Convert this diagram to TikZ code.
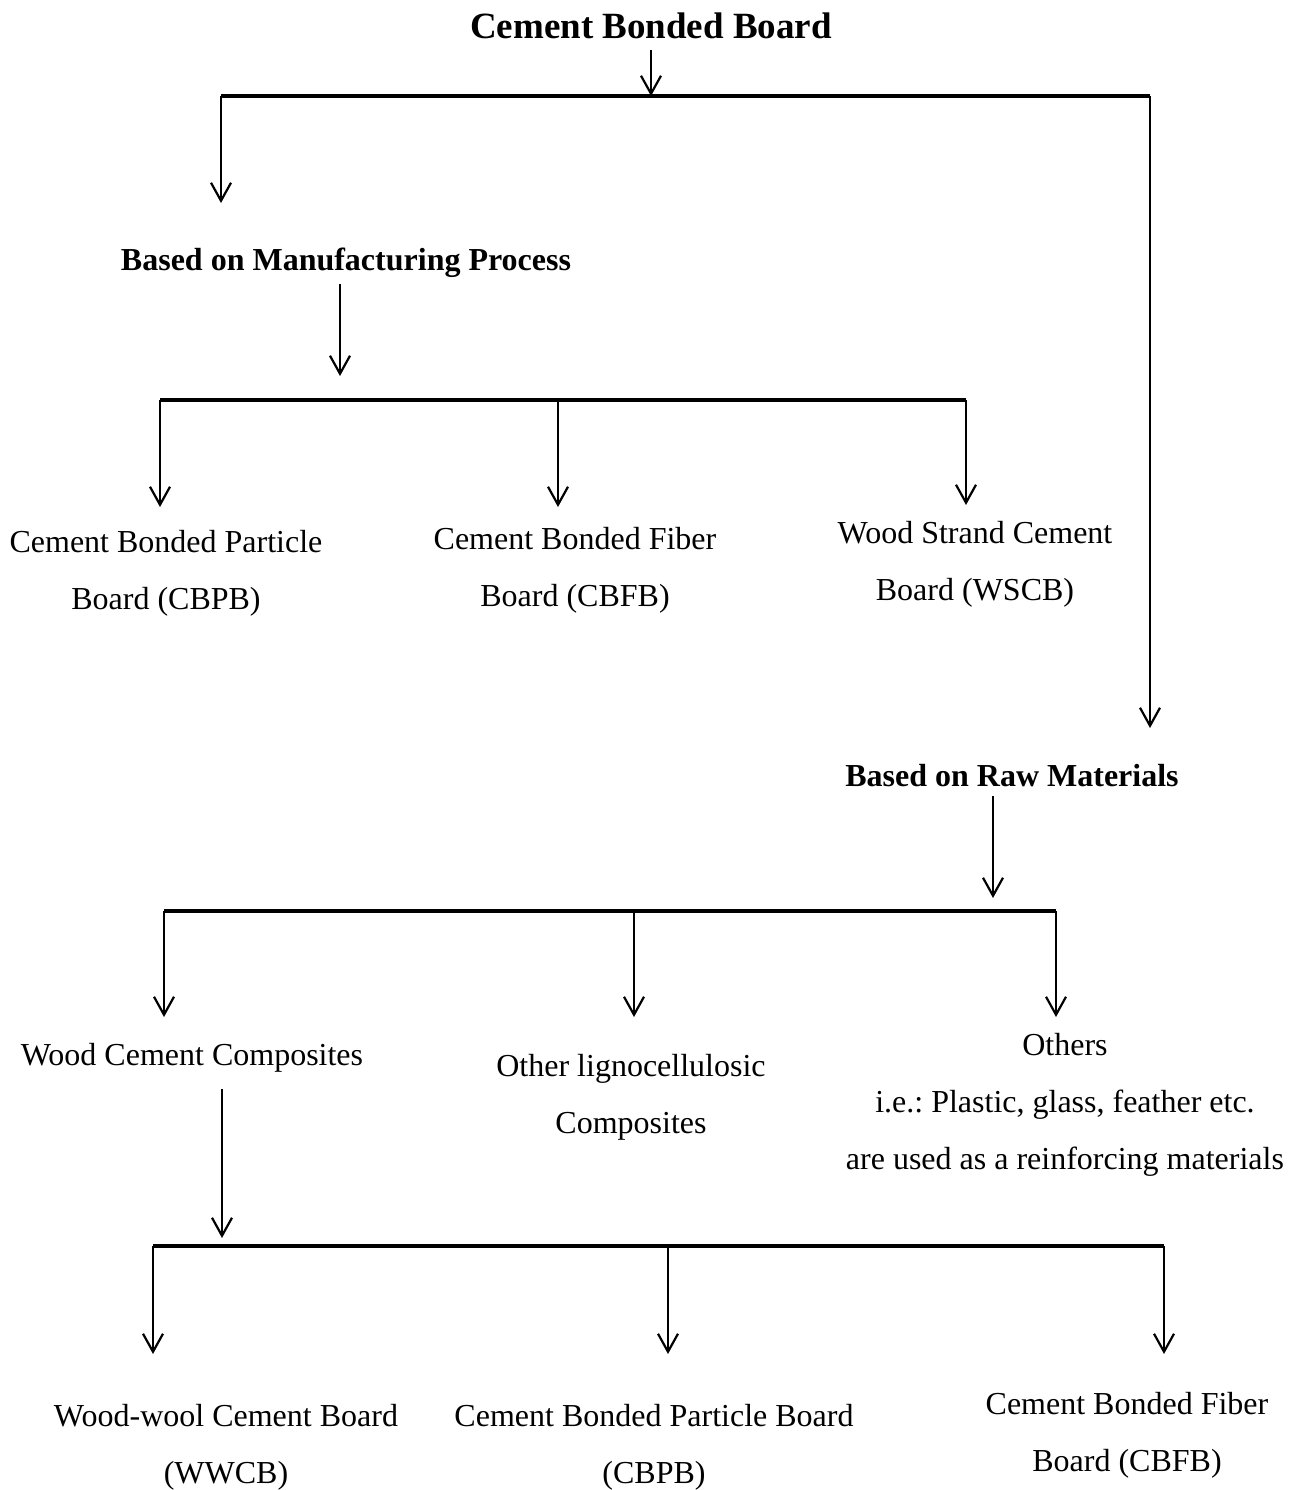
\documentclass[tikz,border=0pt]{standalone}
\usepackage{fontspec}
\setmainfont{Liberation Serif}
\usetikzlibrary{arrows.meta}
\frenchspacing

\begin{document}
\begin{tikzpicture}[
  x=0.5pt, y=-0.5pt,
  >={Straight Barb[length=9pt,width=10pt]},
  leaf/.style={
    anchor=north,
    inner sep=0pt,
    align=center,
    font=\fontsize{16}{28.5}\selectfont
  },
  heading/.style={leaf, font=\fontsize{16}{28.5}\selectfont\bfseries},
  busline/.style={line width=2pt},
  link/.style={->, line width=1.1pt}
]
\useasboundingbox (0,0) rectangle (1303,1490);

% Root
\node[heading, font=\fontsize{18.5}{22}\selectfont\bfseries] (cbb) at (651,12) {Cement Bonded Board};

\coordinate (top0) at (221,96);
\coordinate (top1) at (1150,96);

\draw[link, shorten <=5.5pt] (cbb.south) -- (cbb.south |- top0);
\draw[busline] (top0) -- (top1);

% Manufacturing process branch
\node[heading] (mfg) at (346,248) {Based on Manufacturing Process};

\node[leaf] (cbpbA) at (166,530) {Cement Bonded Particle\\Board (CBPB)};
\node[leaf] (cbfbA) at (575,527) {Cement Bonded Fiber\\Board (CBFB)};
\node[leaf] (wscb) at (975,521) {Wood Strand Cement\\Board (WSCB)};

\coordinate (mfgbus0) at (160,400);
\coordinate (mfgin) at (340,400);
\coordinate (mfgmid) at (558,400);
\coordinate (mfgbus1) at (966,400);

\draw[link, shorten >=22.5pt] (top0) -- (top0 |- mfg.north);
\draw[link, shorten <=3pt, shorten >=12pt] (mfg.south -| mfgin) -- (mfgin);
\draw[busline] (mfgbus0) -- (mfgbus1);
\draw[link, shorten >=11.5pt] (mfgbus0) -- (mfgbus0 |- cbpbA.north);
\draw[link, shorten >=10pt] (mfgmid) -- (mfgmid |- cbfbA.north);
\draw[link, shorten >=8pt] (mfgbus1) -- (mfgbus1 |- wscb.north);

% Raw materials branch
\node[heading] (raw) at (1012,764) {Based on Raw Materials};

\node[leaf] (wcc) at (192,1043) {Wood Cement Composites};
\node[leaf] (olc) at (631,1054) {Other lignocellulosic\\Composites};
\node[leaf] (oth) at (1065,1033) {Others\\i.e.: Plastic, glass, feather etc.\\are used as a reinforcing materials};

\coordinate (rawbus0) at (164,911);
\coordinate (rawmid) at (634,911);
\coordinate (rawin) at (993,911);
\coordinate (rawbus1) at (1056,911);

\draw[link, shorten >=18pt] (top1) -- (top1 |- raw.north);
\draw[link, shorten <=4.5pt, shorten >=6.5pt] (raw.south -| rawin) -- (rawin);
\draw[busline] (rawbus0) -- (rawbus1);
\draw[link, shorten >=13pt] (rawbus0) -- (rawbus0 |- wcc.north);
\draw[link, shorten >=18.5pt] (rawmid) -- (rawmid |- olc.north);
\draw[link, shorten >=8pt] (rawbus1) -- (rawbus1 |- oth.north);

% Wood cement composites
\node[leaf] (wwcb) at (226,1404) {Wood-wool Cement Board\\(WWCB)};
\node[leaf] (cbpbB) at (654,1404) {Cement Bonded Particle Board\\(CBPB)};
\node[leaf] (cbfbB) at (1127,1392) {Cement Bonded Fiber\\Board (CBFB)};

\coordinate (woodbus0) at (153,1246);
\coordinate (woodin) at (222,1246);
\coordinate (woodmid) at (668,1246);
\coordinate (woodbus1) at (1164,1246);

\draw[link, shorten <=8pt, shorten >=4pt] (wcc.south -| woodin) -- (woodin);
\draw[busline] (woodbus0) -- (woodbus1);
\draw[link, shorten >=25pt] (woodbus0) -- (woodbus0 |- wwcb.north);
\draw[link, shorten >=25pt] (woodmid) -- (woodmid |- cbpbB.north);
\draw[link, shorten >=19pt] (woodbus1) -- (woodbus1 |- cbfbB.north);

\end{tikzpicture}
\end{document}
